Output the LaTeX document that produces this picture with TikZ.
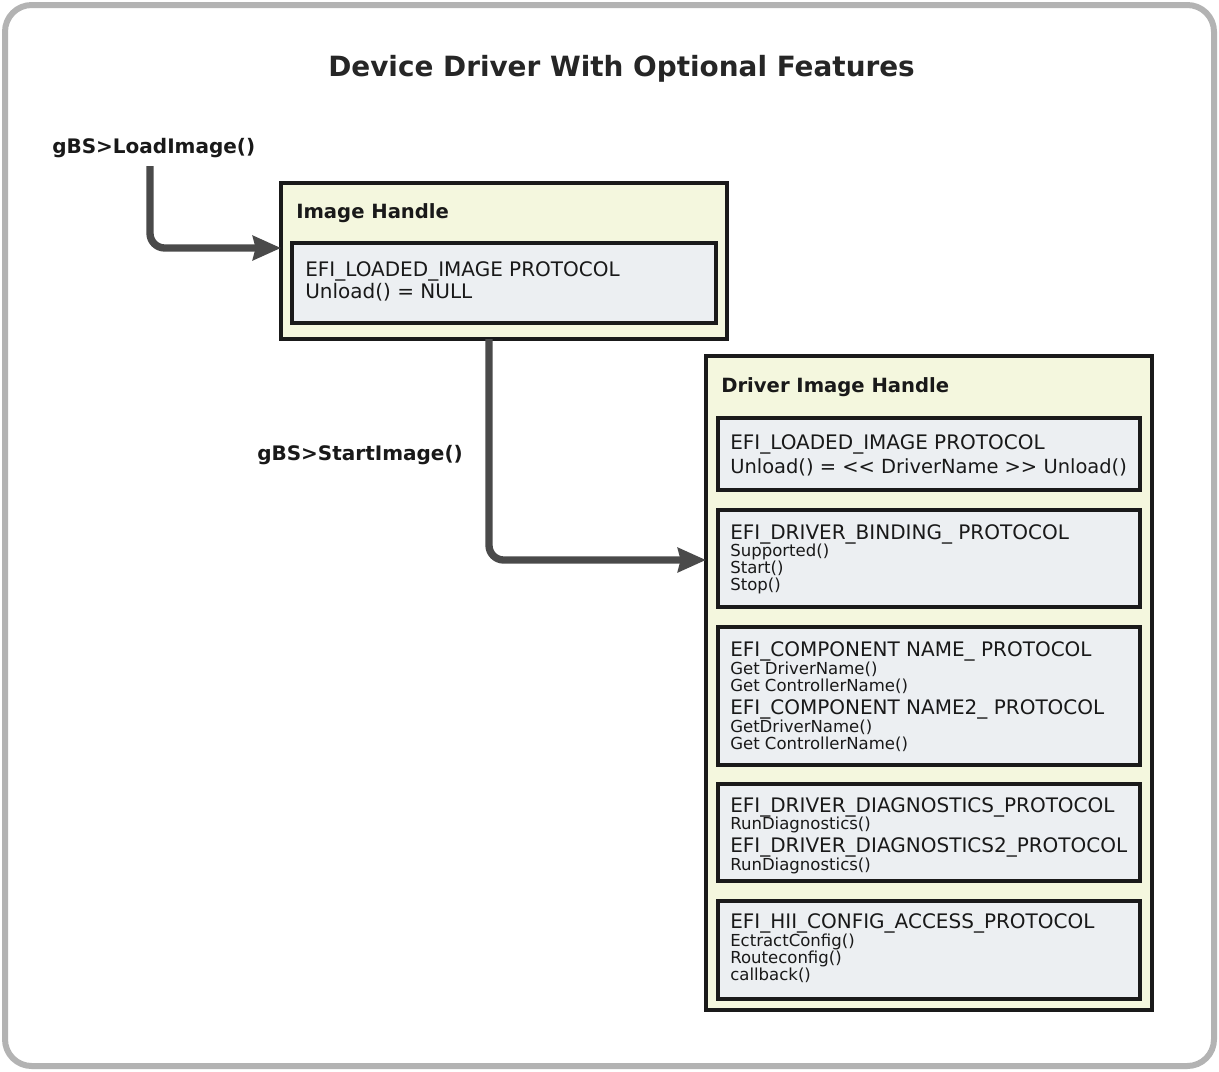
\documentclass[tikz,border=0pt]{standalone}
\usepackage{fontspec}
\setmainfont{DejaVu Sans}
\usetikzlibrary{arrows.meta}
\definecolor{framegray}{HTML}{B3B3B3}
\definecolor{hyellow}{HTML}{F4F7DE}
\definecolor{pblue}{HTML}{ECEFF2}
\definecolor{edge}{HTML}{1A1A1A}
\definecolor{arrowgray}{HTML}{4A4A4A}
\newcommand\boxat[6]{\node[#2, anchor=north west, minimum width={(#5-#3)*0.75pt}, minimum height={(#6-#4)*0.75pt}] (#1) at (#3,#4) {};}
\tikzset{
  handlebox/.style={draw=edge, fill=hyellow, line width=2.4pt, inner sep=0pt, outer sep=0pt},
  protobox/.style={draw=edge, fill=pblue, line width=3pt, inner sep=0pt, outer sep=0pt},
  bigtxt/.style={anchor=base west, inner sep=0pt, font=\fontsize{15}{17}\selectfont, text=black!90},
  smalltxt/.style={anchor=base west, inner sep=0pt, font=\fontsize{12.4}{14}\selectfont, text=black!90},
  headtxt/.style={anchor=base west, inner sep=0pt, font=\bfseries\fontsize{14.7}{17}\selectfont, text=black!90},
  calltxt/.style={anchor=base west, inner sep=0pt, font=\bfseries\fontsize{15}{18}\selectfont, text=black!90},
  titletxt/.style={anchor=base west, inner sep=0pt, font=\bfseries\fontsize{20.9}{25}\selectfont, text=black!85},
  flow/.style={draw=arrowgray, line width=5.5pt, rounded corners=11pt,
    -{Stealth[length=21pt, width=18pt, inset=2pt]}},
}
\begin{document}
\begin{tikzpicture}[x=0.75pt, y=-0.75pt]
\useasboundingbox (0,0) rectangle (1219,1071);
\draw[framegray, line width=4.5pt, rounded corners=20pt, fill=white] (5,5) rectangle (1214,1066);

\node[titletxt] (title) at (328,76) {Device Driver With Optional Features};

\node[calltxt] (load) at (52,153) {gBS>LoadImage()};
\node[calltxt] (start) at (257,460) {gBS>StartImage()};

% Image Handle
\boxat{ih}{handlebox}{281}{183}{727}{339}
\node[headtxt] (ihlabel) at (296,218) {Image Handle};
\boxat{ihp}{protobox}{292}{243}{716}{323}
\node[bigtxt] (ihp1) at (305,276) {EFI\_LOADED\_IMAGE PROTOCOL};
\node[bigtxt] (ihp2) at (305,298) {Unload() = NULL};

% Driver Image Handle
\boxat{dh}{handlebox}{706}{356}{1152}{1010}
\node[headtxt] (dhlabel) at (721,392) {Driver Image Handle};

\boxat{p1}{protobox}{718}{418}{1140}{490}
\node[bigtxt] (p1a) at (730,449) {EFI\_LOADED\_IMAGE PROTOCOL};
\node[bigtxt, font=\fontsize{14.6}{17}\selectfont] (p1b) at (730,473) {Unload() = {<}{<} DriverName {>}{>} Unload()};

\boxat{p2}{protobox}{718}{510}{1140}{607}
\node[bigtxt] (p2a) at (730,539) {EFI\_DRIVER\_BINDING\_ PROTOCOL};
\node[smalltxt] (p2b) at (730,556) {Supported()};
\node[smalltxt] (p2c) at (730,573) {Start()};
\node[smalltxt] (p2d) at (730,590) {Stop()};

\boxat{p3}{protobox}{718}{627}{1140}{765}
\node[bigtxt] (p3a) at (730,656) {EFI\_COMPONENT NAME\_ PROTOCOL};
\node[smalltxt] (p3b) at (730,674) {Get DriverName()};
\node[smalltxt] (p3c) at (730,691) {Get ControllerName()};
\node[bigtxt] (p3d) at (730,714) {EFI\_COMPONENT NAME2\_ PROTOCOL};
\node[smalltxt] (p3e) at (730,732) {GetDriverName()};
\node[smalltxt] (p3f) at (730,749) {Get ControllerName()};

\boxat{p4}{protobox}{718}{784}{1140}{881}
\node[bigtxt] (p4a) at (730,812) {EFI\_DRIVER\_DIAGNOSTICS\_PROTOCOL};
\node[smalltxt] (p4b) at (730,829) {RunDiagnostics()};
\node[bigtxt] (p4c) at (730,852) {EFI\_DRIVER\_DIAGNOSTICS2\_PROTOCOL};
\node[smalltxt] (p4d) at (730,870) {RunDiagnostics()};

\boxat{p5}{protobox}{718}{901}{1140}{999}
\node[bigtxt] (p5a) at (730,928) {EFI\_HII\_CONFIG\_ACCESS\_PROTOCOL};
\node[smalltxt] (p5b) at (730,946) {EctractConfig()};
\node[smalltxt] (p5c) at (730,963) {Routeconfig()};
\node[smalltxt] (p5d) at (730,980) {callback()};

% connectors
\coordinate (a1) at (150,166);
\coordinate (a1end) at (280,248);
\coordinate (a2) at (489,339);
\coordinate (a2end) at (705,560);
\draw[flow] (a1) |- (ih.west |- a1end);
\draw[flow] (ih.south -| a2) |- (dh.west |- a2end);
\end{tikzpicture}
\end{document}
